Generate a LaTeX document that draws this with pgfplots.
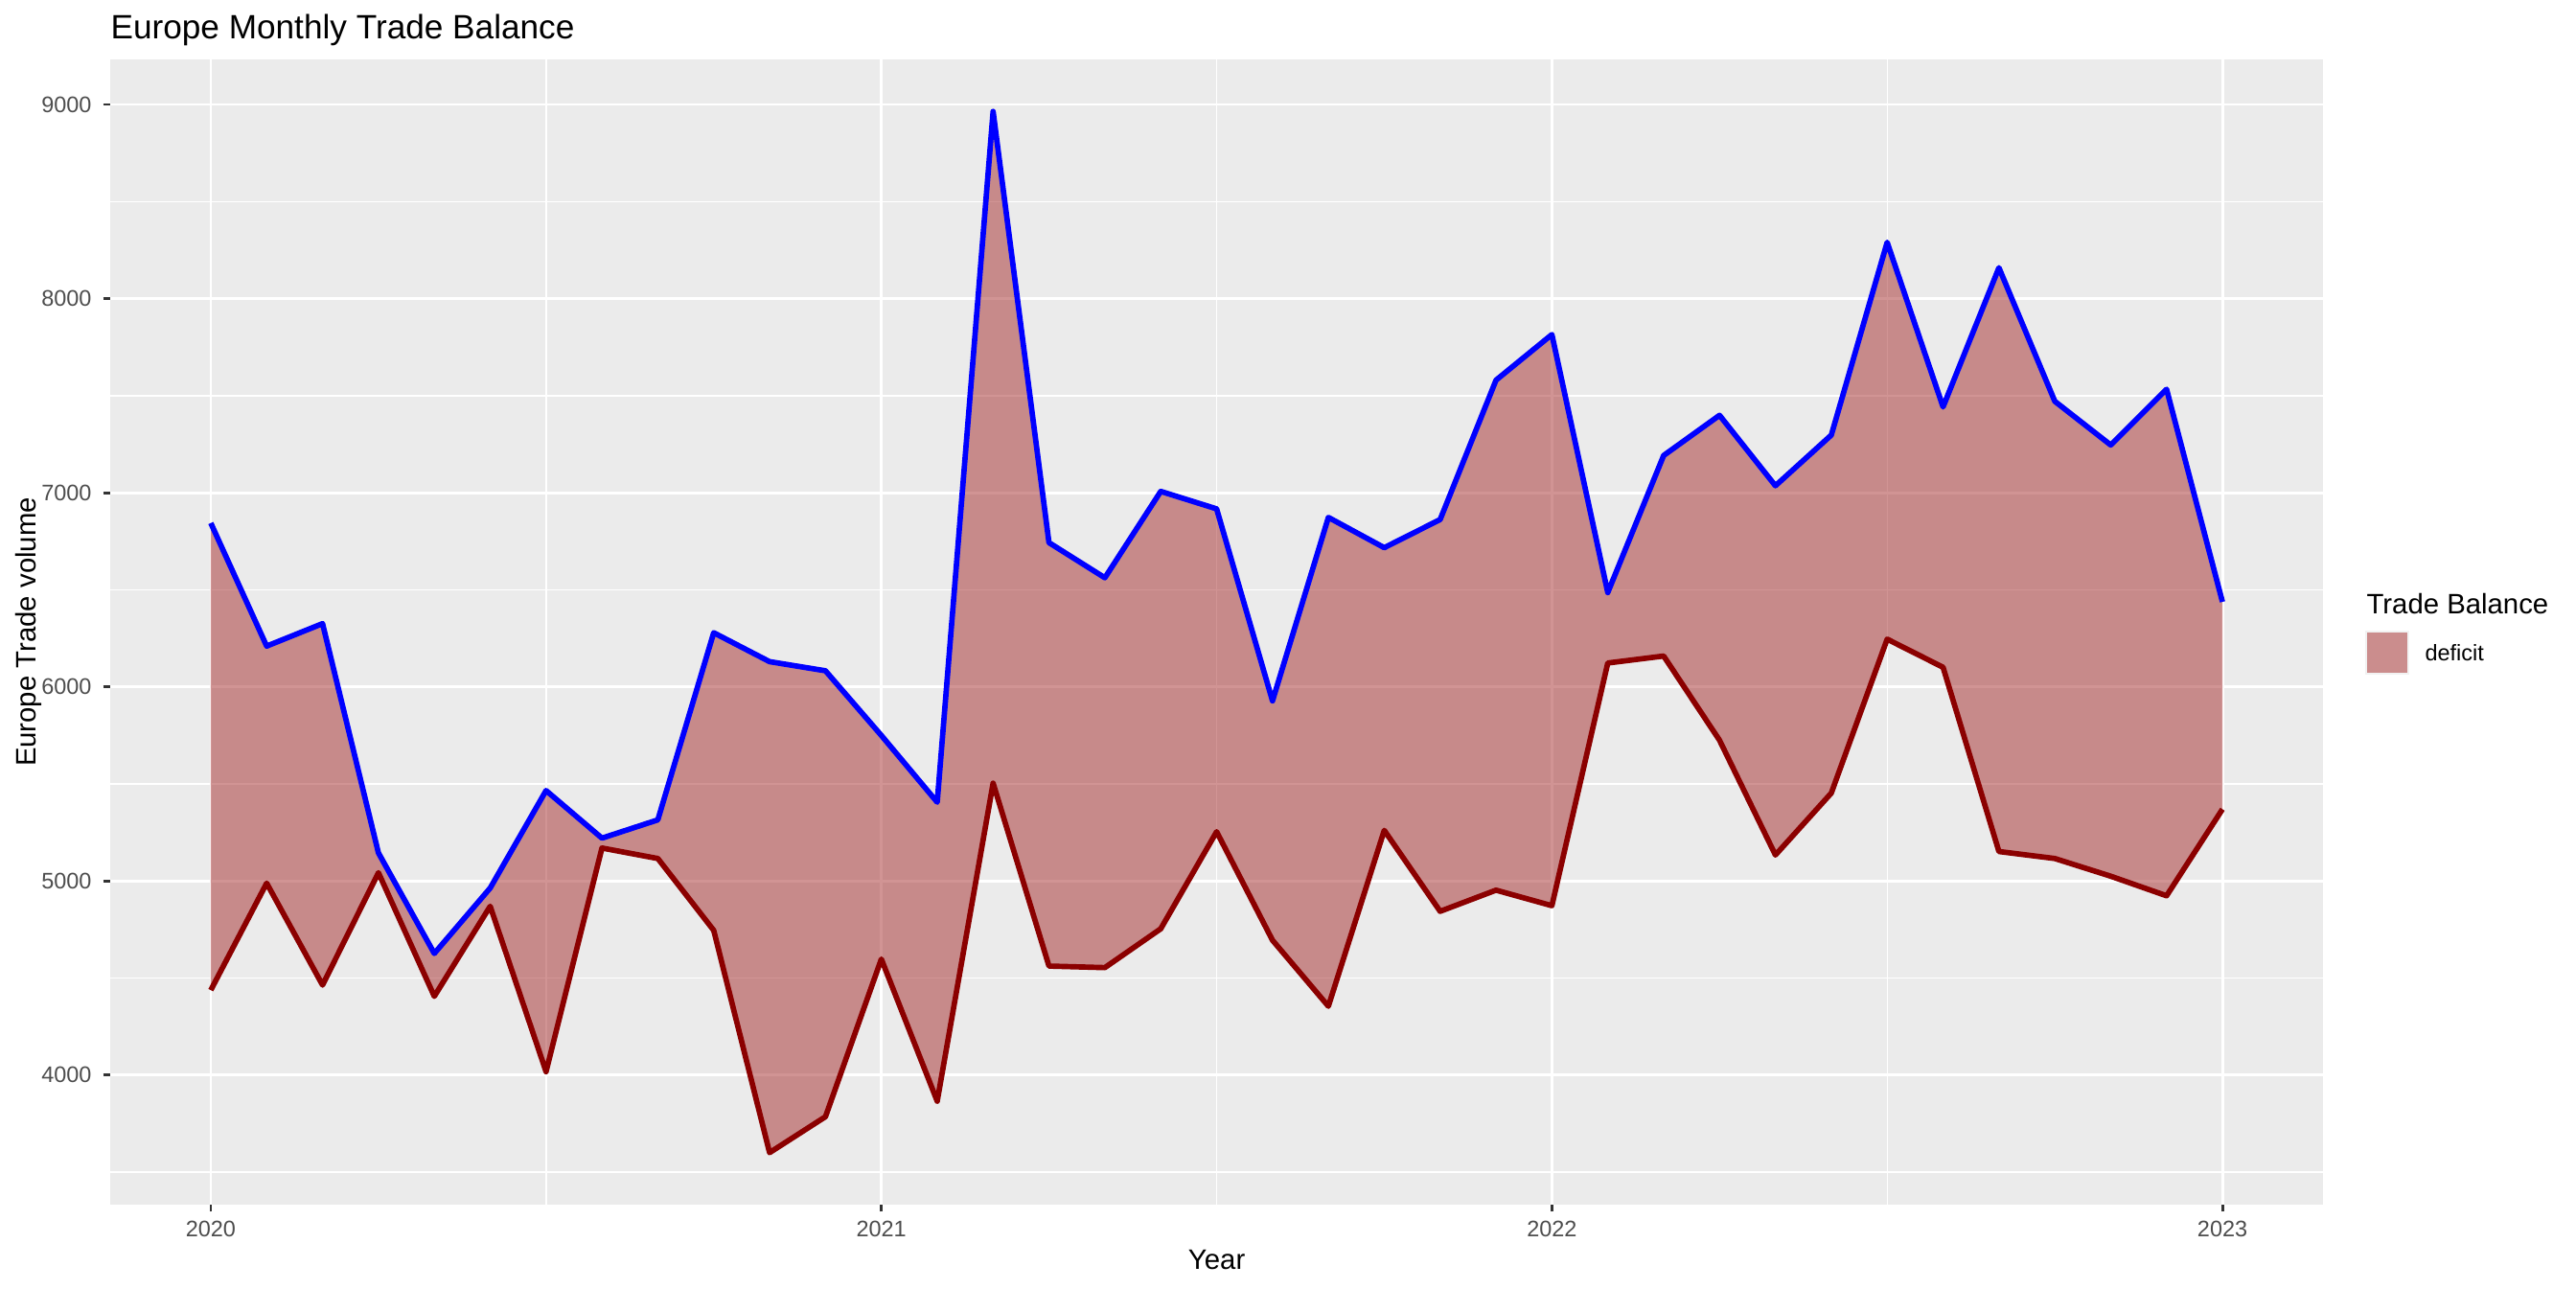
\documentclass[border=0pt]{standalone}
\usepackage{fontspec}
\setmainfont{Liberation Sans}
\usepackage{pgfplots}
\pgfplotsset{compat=1.18}
\usepgfplotslibrary{fillbetween}
\usepackage{pgfplotstable}
\definecolor{panelgrey}{RGB}{235,235,235}
\definecolor{grey30}{RGB}{77,77,77}
\definecolor{grey20}{RGB}{51,51,51}
\definecolor{grey95}{RGB}{242,242,242}
\definecolor{ribbon}{RGB}{165,42,42}
\definecolor{exportred}{RGB}{139,0,0}
\definecolor{importblue}{RGB}{0,0,255}
\pgfplotstableread{
m blue red
0 6844 4438
1 6210 4989
2 6326 4464
3 5145 5043
4 4627 4406
5 4964 4870
6 5466 4018
7 5221 5170
8 5315 5116
9 6279 4746
10 6130 3601
11 6083 3786
12 5750 4598
13 5406 3866
14 8964 5504
15 6743 4562
16 6562 4554
17 7007 4754
18 6917 5254
19 5928 4695
20 6873 4355
21 6717 5261
22 6862 4844
23 7580 4953
24 7815 4873
25 6486 6123
26 7192 6159
27 7399 5725
28 7036 5134
29 7297 5453
30 8290 6246
31 7442 6101
32 8159 5152
33 7471 5116
34 7246 5025
35 7533 4924
36 6438 5370
}\trade
\begin{document}
\begin{tikzpicture}
\begin{axis}[
  at={(43.125pt,32.625pt)}, anchor=south west,
  width=865.875pt, height=448.125pt, scale only axis,
  xmin=-1.8, xmax=37.8, ymin=3333, ymax=9232,
  axis line style={draw=none},
  axis background/.style={fill=panelgrey},
  xtick={0,12,24,36}, xticklabels={2020,2021,2022,2023},
  minor xtick={6,18,30},
  ytick={4000,5000,6000,7000,8000,9000},
  minor ytick={3500,4500,5500,6500,7500,8500},
  grid=both,
  major grid style={white, line width=1.07pt},
  minor grid style={white, line width=0.53pt},
  tick pos=left,
  tick align=outside, major tick length=2.75pt, minor tick length=0pt,
  major tick style={grey20, line width=1.07pt},
  tick label style={font=\fontsize{8.8}{10}\selectfont, text=grey30, inner sep=0pt},
  xticklabel style={anchor=base, yshift=-9.65pt},
  yticklabel style={anchor=east, xshift=-4.35pt},
  /pgf/number format/assume math mode=true,
  /pgf/number format/1000 sep={},
]
\addplot[name path=imp, draw=importblue, line width=2.13pt, line join=round] table[x=m,y=blue]{\trade};
\addplot[name path=exp, draw=exportred, line width=2.13pt, line join=round] table[x=m,y=red]{\trade};
\addplot[fill=ribbon, fill opacity=0.5, draw=none] fill between[of=imp and exp];
\end{axis}
\node[anchor=base west, font=\fontsize{13.2}{15}\selectfont, inner sep=0pt] at (43.125pt,488.7pt) {Europe Monthly Trade Balance};
\node[anchor=base, rotate=90, font=\fontsize{11}{13}\selectfont, inner sep=0pt] at (14.2pt,256.7pt) {Europe Trade volume};
\node[anchor=base, font=\fontsize{11}{13}\selectfont, inner sep=0pt] at (476.1pt,7.5pt) {Year};
\node[anchor=base west, font=\fontsize{11}{13}\selectfont, inner sep=0pt] at (925.9pt,263.7pt) {Trade Balance};
\fill[grey95] (925.5pt,240pt) rectangle (942.8pt,257.3pt);
\fill[ribbon, fill opacity=0.5] (926.2pt,240.7pt) rectangle (942.1pt,256.6pt);
\node[anchor=base west, font=\fontsize{8.8}{10}\selectfont, inner sep=0pt] at (948.75pt,245.3pt) {deficit};
\path (0,0) rectangle (1008pt,504pt);
\end{tikzpicture}
\end{document}
